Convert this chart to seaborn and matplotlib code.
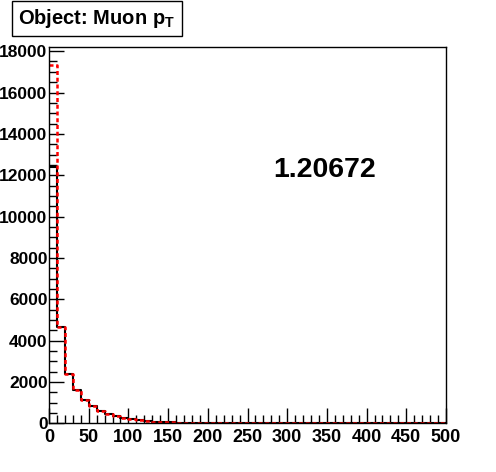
# %% IMPORTS
import numpy as np
import seaborn as sns
from matplotlib import pyplot as plt
from matplotlib.ticker import MultipleLocator

# %% DATA
bin_edges = list(range(0, 510, 10))
black_counts = [12400, 4650, 2400, 1620, 1140, 850, 610, 450, 340, 260,
                200, 150, 110, 85, 65, 50, 40, 32, 26, 21,
                17, 14, 12, 10, 8, 7, 6, 5, 4, 4,
                3, 3, 2, 2, 2, 2, 1, 1, 1, 1,
                1, 1, 1, 1, 1, 1, 0, 0, 0, 0]
red_counts = [17350] + black_counts[1:]
title_text = r'Object: Muon p$_\mathregular{T}$'
ratio_text = '1.20672'

# %% PLOT
sns.set_style('white')
plt.rcParams['font.family'] = ['Liberation Sans', 'DejaVu Sans']
plt.rcParams['font.weight'] = 'bold'
plt.rcParams['mathtext.default'] = 'regular'
plt.rcParams['text.color'] = 'black'
plt.rcParams['xtick.color'] = 'black'
plt.rcParams['ytick.color'] = 'black'

fig = plt.figure(figsize=(4.96, 4.72), dpi=100)
ax = fig.add_axes([0.0988, 0.1028, 0.8004, 0.7976])

centers = np.array(bin_edges[:-1]) + 5
sns.histplot(x=centers, weights=black_counts, bins=bin_edges, element='step',
             fill=False, color='black', linewidth=1.5, ax=ax)
sns.histplot(x=centers, weights=red_counts, bins=bin_edges, element='step',
             fill=False, color='red', linewidth=1.8, linestyle=(0, (1.6, 1.1)), ax=ax)

ax.set_xlim(0, 500)
ax.set_ylim(0, 18200)
ax.set_xlabel('')
ax.set_ylabel('')
ax.xaxis.set_major_locator(MultipleLocator(50))
ax.xaxis.set_minor_locator(MultipleLocator(10))
ax.yaxis.set_major_locator(MultipleLocator(2000))
ax.yaxis.set_minor_locator(MultipleLocator(500))
ax.tick_params(which='major', direction='in', length=11, width=1, labelsize=13,
               labelcolor='black')
ax.tick_params(axis='y', which='major', pad=1, labelsize=12.5)
ax.tick_params(axis='x', which='major', pad=4)
ax.tick_params(which='minor', direction='in', length=6, width=1)
ax.tick_params(axis='both', which='both', bottom=True, left=True, top=False, right=False)
for lab in ax.get_xticklabels() + ax.get_yticklabels():
    lab.set_fontweight('bold')
for sp in ax.spines.values():
    sp.set_color('black')
    sp.set_linewidth(1)

ax.text(0.695, 0.673, ratio_text, transform=ax.transAxes, fontsize=20.5, fontweight='bold',
        ha='center', va='center', color='black')
fig.text(0.1956, 0.961, title_text, fontsize=14.5, fontweight='bold', ha='center', va='center',
         color='black',
         bbox=dict(boxstyle='square,pad=0.3', facecolor='white', edgecolor='black', linewidth=1))

fig.savefig('out.png', dpi=100)
